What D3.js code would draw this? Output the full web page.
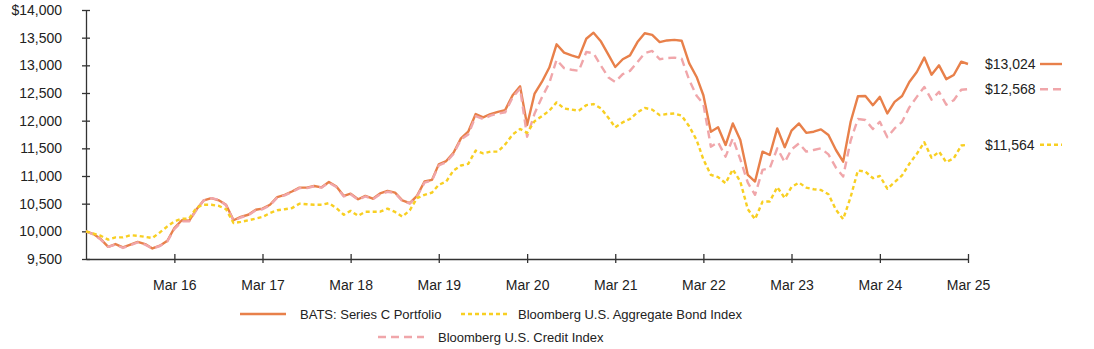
<!DOCTYPE html>
<html>
<head>
<meta charset="utf-8">
<script src="https://cdn.jsdelivr.net/npm/d3@7"></script>
<style>
  body { margin: 0; background: #fff; }
  svg { font-family: "Liberation Sans", Arial, sans-serif; }
  .axis path, .axis line { stroke: #333; stroke-width: 1.3; }
  .axis text { fill: #222; font-size: 14px; }
</style>
</head>
<body>
<div id="chart"></div>
<script>
// monthly values, Mar 2015 .. Mar 2025
const bats = [
  10000, 9950, 9860, 9720, 9770, 9710, 9760, 9810, 9770, 9690, 9740, 9830,
  10060, 10200, 10190, 10400, 10560, 10600, 10560, 10480, 10200, 10260, 10300, 10390,
  10410, 10480, 10620, 10660, 10720, 10790, 10790, 10820, 10795, 10890, 10810, 10640,
  10680, 10580, 10640, 10590, 10685, 10730, 10700, 10560, 10510, 10640, 10900, 10930,
  11210, 11270, 11420, 11680, 11800, 12120, 12060, 12120, 12160, 12190, 12460, 12620,
  11920, 12490, 12700, 12960, 13380, 13230, 13180, 13140, 13480, 13590, 13430, 13190,
  12970, 13110, 13180, 13420, 13580, 13550, 13420, 13450, 13460, 13445, 13040, 12790,
  12460, 11800, 11880, 11560, 11950, 11650, 11020, 10900, 11440, 11380, 11860, 11520,
  11820, 11950, 11780, 11800, 11843, 11740, 11470, 11260, 11980, 12440, 12445, 12280,
  12430, 12130, 12340, 12445, 12700, 12880, 13140, 12830, 13000, 12750, 12825, 13066,
  13024
];
const aggregate = [
  10000, 9960, 9920, 9850, 9890, 9890, 9930, 9920, 9900, 9880, 9980, 10090,
  10180, 10230, 10230, 10430, 10480, 10480, 10460, 10400, 10150, 10170, 10200, 10230,
  10260, 10330, 10380, 10400, 10420, 10500, 10490, 10480, 10480, 10510, 10420, 10300,
  10370, 10280, 10355, 10355, 10355, 10410, 10350, 10265, 10380, 10600, 10660, 10700,
  10840, 10900, 11100, 11190, 11220, 11460, 11410, 11440, 11440, 11570, 11750, 11850,
  11780, 11990, 12080, 12180, 12330, 12220, 12200, 12180, 12280, 12300, 12220, 12050,
  11880, 11970, 12030, 12150, 12230, 12200, 12100, 12120, 12130, 12090, 11900, 11650,
  11300, 11020, 10980, 10870, 11120, 10900, 10400, 10220, 10536, 10540, 10800, 10600,
  10800, 10880, 10790, 10760, 10747, 10670, 10390, 10220, 10620, 11100, 11080, 10960,
  11000, 10770, 10890, 11010, 11220, 11400, 11610, 11330, 11440, 11250, 11320, 11550,
  11564
];
const credit = [
  10000, 9945, 9850, 9720, 9760, 9700, 9750, 9800, 9760, 9690, 9735, 9820,
  10040, 10180, 10180, 10390, 10560, 10600, 10570, 10470, 10190, 10250, 10290, 10380,
  10400, 10470, 10610, 10650, 10710, 10780, 10780, 10815, 10790, 10880, 10800, 10630,
  10670, 10570, 10630, 10580, 10670, 10715, 10690, 10550, 10500, 10630, 10880, 10920,
  11190, 11250, 11400, 11660, 11750, 12080, 12030, 12090, 12130, 12150, 12420, 12580,
  11710, 12130, 12420, 12680, 13100, 12950, 12920, 12900, 13240, 13220, 12990, 12780,
  12700, 12840, 12900, 13060, 13220, 13260, 13110, 13130, 13140, 13120, 12740, 12450,
  12300, 11530, 11610, 11350, 11680, 11300, 10880, 10660, 11110, 11140, 11500, 11250,
  11480, 11590, 11440, 11470, 11500, 11390, 11150, 10990, 11640, 12030, 12012, 11850,
  11980, 11700, 11860, 11980, 12240, 12430, 12610, 12380, 12520, 12290, 12370, 12560,
  12568
];
const endLabels = ["$13,024", "$12,568", "$11,564"];
const yTicks = [9500, 10000, 10500, 11000, 11500, 12000, 12500, 13000, 13500, 14000];
const xTickLabels = ["Mar 16", "Mar 17", "Mar 18", "Mar 19", "Mar 20", "Mar 21", "Mar 22", "Mar 23", "Mar 24", "Mar 25"];

const series = [
  { name: "BATS: Series C Portfolio", values: bats, color: "#E8804A", dash: null, label: endLabels[0] },
  { name: "Bloomberg U.S. Credit Index", values: credit, color: "#F0A6AA", dash: "8,5", label: endLabels[1] },
  { name: "Bloomberg U.S. Aggregate Bond Index", values: aggregate, color: "#F8CF22", dash: "4,3", label: endLabels[2] }
];

const width = 1094, height = 349;
const margin = { left: 86, right: 126, top: 10, bottom: 90 };

const svg = d3.select("#chart").append("svg")
    .attr("width", width)
    .attr("height", height);

const start = new Date(2015, 2, 1);
const dates = bats.map((d, i) => d3.timeMonth.offset(start, i));

const x = d3.scaleTime()
    .domain([dates[0], dates[dates.length - 1]])
    .range([margin.left, width - margin.right]);

const y = d3.scaleLinear()
    .domain([9500, 14000])
    .range([height - margin.bottom, margin.top]);

// y axis
svg.append("g")
    .attr("class", "axis")
    .attr("transform", `translate(${margin.left},0)`)
    .call(d3.axisLeft(y).tickValues(yTicks).tickSizeInner(4).tickSizeOuter(0).tickPadding(20)
        .tickFormat((d, i) => (i === yTicks.length - 1 ? "$" : "") + d3.format(",")(d)))
    .call(g => g.selectAll(".tick line").attr("x2", 4).attr("x1", -4));

// x axis
const xTicks = xTickLabels.map((d, i) => new Date(2016 + i, 2, 1));
svg.append("g")
    .attr("class", "axis")
    .attr("transform", `translate(0,${height - margin.bottom})`)
    .call(d3.axisBottom(x).tickValues(xTicks).tickSizeInner(4).tickSizeOuter(0).tickPadding(17)
        .tickFormat((d, i) => xTickLabels[i]))
    .call(g => g.selectAll(".tick line").attr("y1", -5).attr("y2", 4));

const line = d3.line()
    .x((d, i) => x(dates[i]))
    .y(d => y(d));

// draw order: portfolio, credit, aggregate
series.forEach(s => {
  svg.append("path")
      .datum(s.values)
      .attr("fill", "none")
      .attr("stroke", s.color)
      .attr("stroke-width", 2.4)
      .attr("stroke-dasharray", s.dash)
      .attr("stroke-linejoin", "round")
      .attr("d", line);
});

// end labels
const labelX = width - margin.right + 17;
series.forEach(s => {
  const yy = y(s.values[s.values.length - 1]);
  svg.append("text")
      .attr("x", labelX)
      .attr("y", yy)
      .attr("dy", "0.35em")
      .attr("font-size", 14)
      .attr("fill", "#222")
      .text(s.label);
  svg.append("line")
      .attr("x1", labelX + 55).attr("x2", labelX + 77)
      .attr("y1", yy).attr("y2", yy)
      .attr("stroke", s.color)
      .attr("stroke-width", 2.4)
      .attr("stroke-dasharray", s.dash);
});

// legend
const legendItems = [
  { s: series[0], x: 240, y: 314, gap: 60 },
  { s: series[2], x: 461, y: 314, gap: 57 },
  { s: series[1], x: 378, y: 337, gap: 60 }
];
legendItems.forEach(it => {
  svg.append("line")
      .attr("x1", it.x).attr("x2", it.x + 46)
      .attr("y1", it.y).attr("y2", it.y)
      .attr("stroke", it.s.color)
      .attr("stroke-width", 2.4)
      .attr("stroke-dasharray", it.s.dash);
  svg.append("text")
      .attr("x", it.x + it.gap)
      .attr("y", it.y)
      .attr("dy", "0.35em")
      .attr("font-size", 13)
      .attr("fill", "#222")
      .text(it.s.name);
});
</script>
</body>
</html>
